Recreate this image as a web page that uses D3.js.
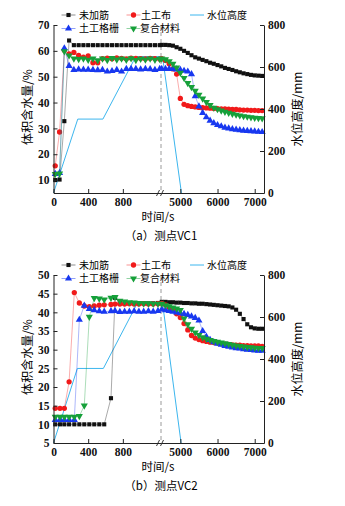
<!DOCTYPE html>
<html>
<head>
<meta charset="utf-8">
<script src="https://cdn.jsdelivr.net/npm/d3@7"></script>
<style>
  body { margin: 0; background: #fff; }
</style>
</head>
<body>
<svg id="chart" width="345" height="506"></svg>
<script>
// Series names and tick values
const seriesNames = ['未加筋', '土工布', '土工格栅', '复合材料'];
const waterName = '水位高度';
const leftXTicks = [0, 400, 800];
const rightXTicks = [5000, 6000, 7000];
const waterTicks = [0, 200, 400, 600, 800];
const vc1Ticks = [10, 20, 30, 40, 50, 60, 70];
const vc2Ticks = [5, 10, 15, 20, 25, 30, 35, 40, 45, 50];

// time axis after the break (s)
const timeRight = [4500, 4600, 4700, 4800, 4900, 5000, 5100, 5200, 5300, 5400, 5500, 5600, 5700, 5800,
    5900, 6000, 6100, 6200, 6300, 6400, 6500, 6600, 6700, 6800, 6900, 7000, 7100, 7200];

// ---- VC1 ----
const vc1TimeLeft = [20, 70, 125, 180, 235, 290, 345, 400, 455, 510, 565, 620, 675, 730, 785, 840, 895, 950,
    1005, 1060, 1115, 1170, 1225];
const vc1PlainLeft = [10, 10.2, 32.8, 64, 62.2, 62.2, 62.2, 62.2, 62.2, 62.2, 62.2, 62.2, 62.2, 62.2, 62.2,
    62.2, 62.2, 62.2, 62.2, 62.2, 62.2, 62.2, 62.2];
const vc1GeotexLeft = [15.5, 28.6, 60.2, 58.8, 59.4, 58.2, 57.6, 58.0, 55.4, 55.4, 57.0, 57.2, 56.9, 57.3,
    57.1, 56.9, 57.2, 57.1, 57.0, 56.9, 57.1, 57.0, 56.8];
const vc1GridLeft = [12.4, 12.8, 61.0, 54.2, 52.6, 52.8, 52.7, 52.7, 52.6, 52.5, 52.6, 52.0, 52.2, 52.6,
    52.0, 53.0, 53.0, 53.0, 52.8, 53.0, 52.9, 52.6, 53.0];
const vc1CompLeft = [12.3, 12.5, 59.8, 58.2, 57.0, 56.8, 57.0, 56.5, 57.0, 56.3, 57.0, 56.4, 57.2, 56.6,
    57.0, 56.5, 57.1, 56.4, 56.9, 56.6, 57.0, 56.5, 56.8];
const vc1PlainRight = [62.3, 62.3, 62.2, 62.0, 61.4, 60.8, 60.0, 59.2, 58.3, 57.5, 57.0, 56.5, 56.0, 55.4,
    55.0, 54.5, 54.0, 53.4, 53.0, 52.6, 52.1, 51.7, 51.3, 51.0, 50.7, 50.5, 50.4, 50.3];
const vc1GeotexRight = [57.0, 56.3, 55.0, 53.0, 51.0, 41.6, 39.3, 38.8, 38.5, 38.3, 38.1, 38.0, 37.9, 37.8,
    37.7, 37.6, 37.5, 37.5, 37.4, 37.3, 37.3, 37.2, 37.1, 37.1, 37.0, 37.0, 36.9, 36.9];
const vc1GridRight = [53.0, 53.0, 53.0, 53.0, 52.8, 52.6, 52.3, 52.0, 51.0, 42.5, 38.5, 36.0, 34.3, 33.0,
    32.0, 31.3, 30.8, 30.3, 30.0, 29.7, 29.5, 29.3, 29.1, 29.0, 28.9, 28.8, 28.7, 28.6];
const vc1CompRight = [57.0, 56.7, 56.0, 55.0, 53.5, 51.5, 49.5, 47.5, 46.0, 44.5, 43.0, 41.5, 40.2, 39.0,
    38.0, 37.4, 36.9, 36.4, 36.0, 35.6, 35.3, 35.0, 34.7, 34.5, 34.3, 34.1, 34.0, 33.9];
const vc1WaterTimeLeft = [0, 280, 570, 950, 1240];
const vc1WaterLeft = [0, 352, 352, 650, 650];
const vc1WaterTimeRight = [4520, 5030];
const vc1WaterRight = [650, 0];

// ---- VC2 ----
const vc2TimeLeft = [20, 75, 125, 180, 240, 298, 355, 413, 470, 528, 585, 663, 710, 765, 820, 875, 930, 985,
    1040, 1095, 1150, 1205];
const vc2PlainLeft = [10, 10, 10, 10, 10, 10, 10, 10, 10, 10, 10, 17, 43.9, 42.6, 42.4, 42.4, 42.4, 42.4,
    42.4, 42.4, 42.4, 42.5];
const vc2GeotexLeft = [14.3, 14.3, 14.3, 21.4, 45.3, 42.5, 41.7, 41.5, 41.7, 41.9, 42.0, 42.1, 42.2, 42.2,
    42.2, 42.3, 42.2, 42.2, 42.3, 42.2, 42.2, 42.3];
const vc2GridLeft = [11.2, 11.2, 11.2, 11.2, 11.2, 38.0, 41.8, 40.9, 40.6, 40.3, 40.2, 40.3, 40.4, 40.1,
    40.2, 40.2, 40.3, 40.2, 40.2, 40.3, 40.2, 40.4];
const vc2CompLeft = [12.0, 12.0, 12.0, 12.0, 12.0, 12.2, 15.0, 38.8, 43.8, 43.7, 43.4, 43.9, 44.1, 43.1,
    42.9, 42.7, 42.6, 42.5, 42.4, 42.4, 42.3, 42.3];
const vc2PlainRight = [42.8, 42.8, 42.7, 42.7, 42.6, 42.6, 42.5, 42.5, 42.4, 42.4, 42.3, 42.3, 42.2, 42.1,
    42.0, 41.9, 41.8, 41.7, 41.6, 41.3, 40.7, 39.6, 38.2, 36.8, 36.0, 35.7, 35.6, 35.6];
const vc2GeotexRight = [42.4, 42.0, 41.3, 40.5, 39.6, 38.6, 37.0, 35.3, 33.8, 33.1, 32.7, 32.4, 32.2, 32.0,
    31.9, 31.8, 31.6, 31.5, 31.4, 31.3, 31.2, 31.2, 31.1, 31.1, 31.0, 31.0, 31.0, 30.9];
const vc2GridRight = [40.8, 40.6, 40.4, 40.2, 40.0, 39.8, 39.6, 39.3, 38.9, 38.5, 37.8, 35.0, 33.5, 32.6,
    32.0, 31.6, 31.3, 31.0, 30.8, 30.6, 30.4, 30.3, 30.1, 30.0, 29.9, 29.8, 29.7, 29.7];
const vc2CompRight = [42.3, 41.9, 41.6, 41.3, 41.0, 40.6, 38.3, 36.8, 35.6, 34.6, 33.9, 33.3, 32.9, 32.6,
    32.3, 32.1, 31.9, 31.7, 31.5, 31.3, 31.1, 31.0, 30.8, 30.7, 30.6, 30.5, 30.4, 30.4];
const vc2WaterTimeLeft = [0, 275, 575, 960, 1240];
const vc2WaterLeft = [0, 355, 355, 660, 660];
const vc2WaterTimeRight = [4530, 5020];
const vc2WaterRight = [655, 0];

// styles
const colors = ['#111111', '#f11a1a', '#1838f0', '#16a03a'];
const waterColor = '#3cb6ee';
const symbols = [d3.symbolSquare, d3.symbolCircle, d3.symbolTriangle, d3.symbolTriangle];
const symbolSizes = [17, 22, 22, 22];
const symbolRotate = [0, 0, 0, 180];
const serifFont = '"Liberation Serif", "DejaVu Serif", serif';
const cjkFont = '"Noto Sans CJK SC", "Noto Sans", sans-serif';

// two x scales on either side of the break
const plotLeft = 53.5, breakX = 161, plotRight = 264;
const xLeft = d3.scaleLinear().domain([0, 1240]).range([plotLeft, breakX]);
const xRight = d3.scaleLinear().domain([4480, 7250]).range([breakX, plotRight]);

const svg = d3.select('#chart');

function drawPanel(cfg) {
    const g = svg.append('g');
    const y = d3.scaleLinear().domain(cfg.yDomain).range([cfg.bottom, cfg.top]);
    const yW = d3.scaleLinear().domain([0, 800]).range([cfg.bottom, cfg.top]);

    // dashed line at the break
    g.append('line')
        .attr('x1', breakX).attr('x2', breakX)
        .attr('y1', cfg.top).attr('y2', cfg.bottom)
        .attr('stroke', '#9a9a9a')
        .attr('stroke-width', 1)
        .attr('stroke-dasharray', '4,3');

    // water level
    const wLine = d3.line().x(d => d[0]).y(d => yW(d[1]));
    [[xLeft, cfg.waterTL, cfg.waterL], [xRight, cfg.waterTR, cfg.waterR]].forEach(([xs, ts, vs]) => {
        g.append('path')
            .attr('d', wLine(ts.map((t, i) => [xs(t), vs[i]])))
            .attr('fill', 'none')
            .attr('stroke', waterColor)
            .attr('stroke-width', 1);
    });

    // moisture series
    const line = d3.line().x(d => d[0]).y(d => y(d[1]));
    cfg.series.forEach((s, k) => {
        const segs = [
            cfg.timeL.map((t, i) => [xLeft(t), s.left[i]]),
            timeRight.map((t, i) => [xRight(t), s.right[i]])
        ];
        segs.forEach(pts => {
            g.append('path')
                .attr('d', line(pts))
                .attr('fill', 'none')
                .attr('stroke', colors[k])
                .attr('stroke-opacity', 0.45)
                .attr('stroke-width', 0.8);
        });
        const sym = d3.symbol().type(symbols[k]).size(symbolSizes[k]);
        g.selectAll(null)
            .data(segs[0].concat(segs[1]))
            .enter()
            .append('path')
            .attr('d', sym)
            .attr('transform', d => `translate(${d[0]},${y(d[1])}) rotate(${symbolRotate[k]})`)
            .attr('fill', colors[k]);
    });

    // axes
    const fmt = d3.format('d');
    const styleAxis = sel => {
        sel.attr('font-family', serifFont).attr('font-size', 11.5).attr('font-weight', 'bold');
        sel.select('.domain').attr('stroke', '#222');
        sel.selectAll('.tick line').attr('stroke', '#222');
        sel.selectAll('text').attr('fill', '#111');
    };
    g.append('g')
        .attr('transform', `translate(${plotLeft},0)`)
        .call(d3.axisLeft(y).tickValues(cfg.yTicks).tickFormat(fmt)
            .tickSizeInner(-4).tickSizeOuter(0).tickPadding(4))
        .call(styleAxis);
    g.append('g')
        .attr('transform', `translate(${plotRight},0)`)
        .call(d3.axisRight(yW).tickValues(waterTicks).tickFormat(fmt)
            .tickSizeInner(-4).tickSizeOuter(0).tickPadding(4))
        .call(styleAxis);
    g.append('g')
        .attr('transform', `translate(0,${cfg.bottom})`)
        .call(d3.axisBottom(xLeft).tickValues(leftXTicks).tickFormat(fmt)
            .tickSizeInner(-4).tickSizeOuter(0).tickPadding(5))
        .call(styleAxis);
    g.append('g')
        .attr('transform', `translate(0,${cfg.bottom})`)
        .call(d3.axisBottom(xRight).tickValues(rightXTicks).tickFormat(fmt)
            .tickSizeInner(-4).tickSizeOuter(0).tickPadding(5))
        .call(styleAxis);

    // break marks
    [-3, 1].forEach(dx => {
        g.append('line')
            .attr('x1', breakX + dx - 1.5).attr('y1', cfg.bottom + 3)
            .attr('x2', breakX + dx + 1.5).attr('y2', cfg.bottom - 3)
            .attr('stroke', '#222').attr('stroke-width', 0.9);
    });

    // axis titles
    g.append('text')
        .attr('transform', `translate(28,${(cfg.top + cfg.bottom) / 2 - 2}) rotate(-90)`)
        .attr('text-anchor', 'middle')
        .attr('dy', '0.35em')
        .style('font', `12px ${cjkFont}`)
        .text('体积含水量/%');
    g.append('text')
        .attr('transform', `translate(298,${(cfg.top + cfg.bottom) / 2}) rotate(-90)`)
        .attr('text-anchor', 'middle')
        .attr('dy', '0.35em')
        .style('font', `12px ${cjkFont}`)
        .text('水位高度/mm');
    g.append('text')
        .attr('x', 158).attr('y', cfg.bottom + 24)
        .attr('text-anchor', 'middle').attr('dy', '0.35em')
        .style('font', `11.5px ${cjkFont}`)
        .text('时间/s');
    g.append('text')
        .attr('x', 161).attr('y', cfg.bottom + 43)
        .attr('text-anchor', 'middle').attr('dy', '0.35em')
        .style('font', `11.5px ${cjkFont}`)
        .text(cfg.caption);

    // legend
    const items = [
        { k: 0, mx: 68.5, tx: 79, row: 0 },
        { k: 1, mx: 133.5, tx: 141, row: 0 },
        { k: 2, mx: 68.5, tx: 79, row: 1 },
        { k: 3, mx: 133.5, tx: 140, row: 1 }
    ];
    const rowY = [cfg.top - 10, cfg.top + 3.5];
    items.forEach(it => {
        const ly = rowY[it.row];
        g.append('line')
            .attr('x1', it.mx - 7).attr('x2', it.mx + 7)
            .attr('y1', ly).attr('y2', ly)
            .attr('stroke', colors[it.k]).attr('stroke-opacity', 0.6).attr('stroke-width', 0.8);
        g.append('path')
            .attr('d', d3.symbol().type(symbols[it.k]).size(symbolSizes[it.k]))
            .attr('transform', `translate(${it.mx},${ly}) rotate(${symbolRotate[it.k]})`)
            .attr('fill', colors[it.k]);
        g.append('text')
            .attr('x', it.tx).attr('y', ly).attr('dy', '0.35em')
            .style('font', `10px ${cjkFont}`)
            .text(seriesNames[it.k]);
    });
    g.append('line')
        .attr('x1', 190).attr('x2', 204)
        .attr('y1', rowY[0]).attr('y2', rowY[0])
        .attr('stroke', waterColor).attr('stroke-width', 1);
    g.append('text')
        .attr('x', 207).attr('y', rowY[0]).attr('dy', '0.35em')
        .style('font', `10px ${cjkFont}`)
        .text(waterName);
}

drawPanel({
    top: 25, bottom: 193,
    yDomain: [5, 70], yTicks: vc1Ticks,
    timeL: vc1TimeLeft,
    series: [
        { left: vc1PlainLeft, right: vc1PlainRight },
        { left: vc1GeotexLeft, right: vc1GeotexRight },
        { left: vc1GridLeft, right: vc1GridRight },
        { left: vc1CompLeft, right: vc1CompRight }
    ],
    waterTL: vc1WaterTimeLeft, waterL: vc1WaterLeft,
    waterTR: vc1WaterTimeRight, waterR: vc1WaterRight,
    caption: '（a）测点VC1'
});

drawPanel({
    top: 275, bottom: 443,
    yDomain: [5, 50], yTicks: vc2Ticks,
    timeL: vc2TimeLeft,
    series: [
        { left: vc2PlainLeft, right: vc2PlainRight },
        { left: vc2GeotexLeft, right: vc2GeotexRight },
        { left: vc2GridLeft, right: vc2GridRight },
        { left: vc2CompLeft, right: vc2CompRight }
    ],
    waterTL: vc2WaterTimeLeft, waterL: vc2WaterLeft,
    waterTR: vc2WaterTimeRight, waterR: vc2WaterRight,
    caption: '（b）测点VC2'
});
</script>
</body>
</html>
